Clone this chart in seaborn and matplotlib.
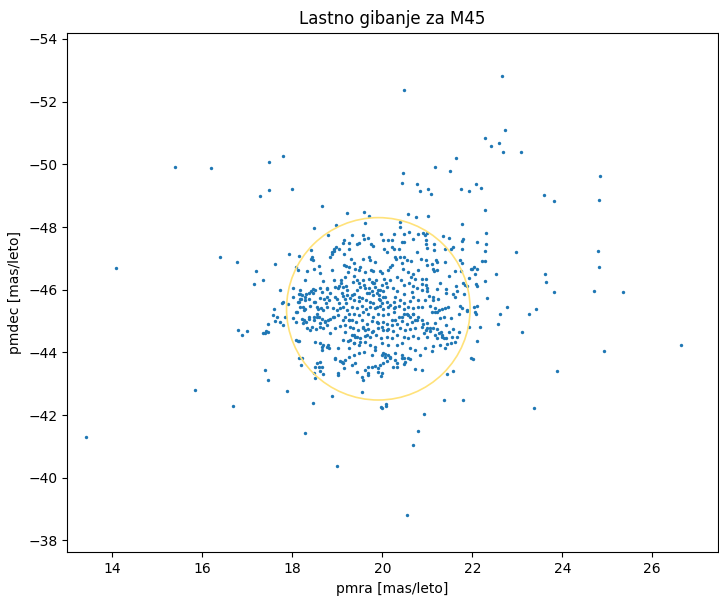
import numpy as np
import pandas as pd
import matplotlib
matplotlib.use("Agg")
import matplotlib.pyplot as plt
from matplotlib.patches import Ellipse
import seaborn as sns

# stars far from the cluster centre
halo_pmra = [
    15.38, 16.20, 17.48, 17.78, 17.27, 17.49, 17.99, 14.09, 16.39, 16.76, 17.19,
    17.62, 17.93, 18.14, 18.09, 18.13, 17.35, 17.14, 17.72, 18.02, 18.02, 18.14,
    22.67, 22.73, 22.29, 22.42, 22.60, 22.68, 23.08, 21.64, 21.51, 22.07, 22.19,
    21.74, 21.93, 24.84, 23.59, 23.82, 24.82, 22.29, 21.76, 22.31, 21.35, 21.48,
    21.80, 21.76, 22.11, 22.31, 21.58, 21.53, 21.39, 21.76, 22.29, 22.97, 24.79,
    24.82, 22.22, 22.28, 21.72, 21.78, 21.39, 21.62, 21.74, 21.96, 21.99, 22.04,
    22.10, 22.05, 21.93, 22.52, 22.28, 21.48, 21.79, 22.08, 22.11, 21.83, 21.89,
    21.64, 21.42, 21.66, 21.42, 21.58, 21.82, 21.62, 23.61, 23.64, 23.82, 24.71,
    25.35, 22.33,
    22.77, 22.62, 23.26, 23.42, 22.56, 23.10, 22.10, 22.04, 22.09, 21.89, 22.16,
    21.93, 22.11, 21.98, 22.02, 21.58, 21.43, 21.36, 21.80, 23.38, 23.88, 24.92,
    26.64,
    13.42, 15.83, 16.69, 17.39, 17.45, 17.87, 16.80, 16.88, 16.98, 17.35, 17.39,
    17.42, 17.46, 17.45, 17.76, 17.80, 17.90, 17.58, 17.56, 17.66, 17.62, 17.72,
    17.80, 17.84, 18.02, 18.09, 18.08, 18.14, 18.16, 18.09, 18.14, 18.14,
    20.47, 21.16, 20.45, 20.43, 20.76, 20.84, 21.02, 21.08, 19.98, 20.08, 20.92,
    20.80, 20.69, 18.27, 18.99, 20.55,
]
halo_pmdec = [
    -49.90, -49.87, -50.08, -50.26, -48.99, -49.17, -49.20, -46.69, -47.04, -46.87, -46.60,
    -46.81, -47.13, -47.07, -46.71, -46.63, -46.31, -46.19, -45.98, -46.04, -45.78, -45.85,
    -52.82, -51.09, -50.85, -50.58, -50.67, -50.38, -50.38, -50.20, -49.79, -49.37, -49.25,
    -49.20, -49.14, -49.62, -49.02, -48.82, -48.87, -48.54, -48.11, -47.82, -47.70, -47.64,
    -47.61, -47.55, -47.51, -47.46, -47.37, -47.31, -47.31, -47.29, -47.22, -47.19, -47.22,
    -46.72, -46.90, -46.90, -46.94, -46.84, -46.87, -46.60, -46.60, -46.66, -46.67, -46.71,
    -46.66, -46.49, -46.37, -46.49, -46.29, -46.43, -46.22, -46.18, -46.13, -46.14, -46.12,
    -46.11, -46.02, -45.96, -45.89, -45.87, -45.86, -45.78, -46.49, -46.24, -45.92, -45.96,
    -45.92, -45.72,
    -45.46, -45.24, -45.24, -45.37, -44.92, -44.66, -45.48, -45.46, -45.24, -45.31, -44.80,
    -44.80, -44.36, -43.81, -43.78, -43.39, -43.30, -42.48, -42.48, -42.21, -43.39, -44.04,
    -44.24,
    -41.30, -42.80, -42.30, -43.45, -43.13, -42.78, -44.72, -44.54, -44.69, -44.63, -44.61,
    -44.68, -44.65, -44.89, -45.57, -45.60, -45.54, -45.39, -45.19, -45.13, -45.01, -44.98,
    -44.86, -45.13, -45.09, -45.28, -44.96, -45.60, -45.69, -44.39, -44.35, -43.83,
    -52.36, -49.92, -49.71, -49.39, -49.36, -49.16, -49.21, -49.06, -42.27, -42.35, -42.03,
    -41.50, -41.06, -41.44, -40.37, -38.81,
]

# upper half of the cluster
upper_pmra = [
    18.65, 18.48, 18.96, 19.22, 18.79, 19.14, 19.13, 18.92, 18.88, 18.93, 18.88,
    18.84, 18.96, 19.04, 19.14, 19.25, 19.26, 18.41, 18.43, 18.42, 18.45, 18.32,
    18.48, 18.60, 18.61, 18.87, 19.14, 19.19, 19.25, 19.24, 18.27, 18.67, 18.92,
    18.94, 19.09, 19.08, 19.04, 19.18, 19.20, 19.12, 18.78, 18.76, 18.61, 18.65,
    18.45, 18.50, 18.42, 18.46, 18.17, 18.17, 18.30, 18.20, 18.29, 18.38, 18.47,
    18.70, 18.74, 18.82, 18.94, 19.00, 19.12, 19.16, 19.21, 19.27, 19.04, 19.19,
    19.59, 19.70, 19.61, 20.57, 20.74, 20.39, 20.40, 19.32, 19.56, 19.68, 19.60,
    19.98, 20.25, 20.48, 20.59, 20.79, 20.69, 19.43, 19.48, 19.74, 19.79, 20.02,
    20.12, 20.22, 20.03, 20.10, 20.22, 20.25, 20.43, 20.47, 20.36, 20.76, 19.30,
    19.38, 19.58, 19.70, 19.73, 19.83, 20.27, 20.30, 20.39, 20.47, 20.54, 20.64,
    20.17, 20.22, 20.12, 20.43, 20.45, 19.51, 19.39, 19.49, 19.62, 19.74, 19.80,
    19.95, 20.00, 20.58, 20.69, 20.80, 19.38, 19.43, 19.35, 19.49, 19.58, 19.59,
    19.70, 19.77, 19.82, 19.86, 20.03, 20.07, 20.16, 20.33, 20.41, 20.47, 20.64,
    20.73, 20.60, 20.69, 19.43, 19.51, 19.37, 19.70, 19.76, 19.71, 19.80, 19.88,
    19.95, 19.92, 20.02, 20.10, 20.06, 20.23, 20.32, 20.28, 20.47, 20.65, 20.76,
    20.69, 19.36, 19.49, 19.64, 19.73, 19.92, 19.99, 20.25, 20.40, 20.47, 20.62,
    20.80,
    21.02, 20.91, 20.95, 20.99, 20.97, 20.96, 21.00, 21.15, 21.15, 20.85, 20.96,
    21.00, 21.10, 21.19, 21.21, 21.13, 21.14, 21.22, 20.88, 20.96, 20.88, 20.96,
    21.00, 20.89, 20.99, 21.03, 20.95, 21.13, 21.12, 21.23, 21.27, 21.22,
]
upper_pmdec = [
    -48.67, -47.97, -48.05, -48.46, -47.75, -47.59, -47.50, -47.31, -47.20, -47.23, -47.14,
    -47.05, -47.36, -47.29, -47.15, -47.48, -47.30, -47.28, -47.03, -46.97, -46.95, -46.60,
    -46.66, -46.75, -46.54, -46.63, -46.79, -46.75, -46.72, -46.56, -46.31, -46.28, -46.32,
    -46.09, -46.31, -46.21, -46.12, -46.41, -46.12, -46.08, -46.07, -46.01, -46.05, -45.93,
    -46.03, -45.99, -45.95, -45.89, -45.98, -45.87, -45.85, -45.70, -45.67, -45.70, -45.62,
    -45.69, -45.58, -45.67, -45.77, -45.70, -45.79, -45.70, -45.83, -45.72, -45.56, -45.56,
    -48.49, -48.36, -48.14, -48.40, -48.33, -48.15, -48.01, -47.75, -47.75, -47.65, -47.63,
    -47.78, -47.79, -47.77, -47.83, -47.79, -47.61, -47.46, -47.48, -47.47, -47.40, -47.57,
    -47.57, -47.57, -47.31, -47.21, -47.37, -47.31, -47.53, -47.51, -47.31, -47.21, -46.97,
    -46.86, -46.97, -47.03, -46.95, -46.89, -47.05, -46.99, -47.03, -47.03, -46.94, -46.91,
    -46.71, -46.78, -46.63, -46.84, -46.65, -46.73, -46.66, -46.63, -46.57, -46.63, -46.60,
    -46.59, -46.52, -46.57, -46.50, -46.62, -46.44, -46.31, -46.24, -46.20, -46.31, -46.14,
    -46.34, -46.25, -46.20, -46.31, -46.33, -46.22, -46.31, -46.41, -46.31, -46.16, -46.41,
    -46.33, -46.20, -46.12, -45.99, -46.08, -45.86, -46.04, -45.97, -45.88, -45.84, -45.90,
    -45.99, -45.82, -45.97, -46.08, -45.78, -46.05, -45.97, -45.78, -45.86, -45.93, -46.04,
    -45.78, -45.67, -45.65, -45.67, -45.62, -45.69, -45.58, -45.62, -45.67, -45.56, -45.65,
    -45.67,
    -48.35, -47.80, -47.75, -47.82, -47.58, -47.46, -47.32, -47.47, -47.27, -46.97, -46.95,
    -46.78, -46.82, -46.95, -46.89, -46.65, -46.60, -46.63, -46.34, -46.33, -46.17, -46.14,
    -46.07, -45.99, -45.96, -45.80, -45.67, -45.78, -45.67, -45.70, -46.20, -46.01,
]

# lower half of the cluster
lower_pmra = [
    18.23, 18.28, 18.39, 18.54, 18.58, 18.63, 18.69, 18.76, 18.91, 18.99, 19.06,
    19.13, 19.21, 19.25, 18.10, 18.21, 18.26, 18.30, 18.23, 18.36, 18.47, 18.54,
    18.60, 18.65, 18.73, 18.84, 18.93, 19.02, 19.13, 19.25, 18.33, 18.39, 18.43,
    18.53, 18.62, 18.68, 18.76, 18.84, 18.95, 19.06, 19.17, 18.13, 18.50, 18.62,
    18.65, 18.76, 18.82, 19.02, 19.13, 19.23, 19.26, 18.54, 18.60, 18.65, 18.68,
    18.62, 18.95, 19.05, 19.13, 19.15, 19.02, 19.25, 18.22, 18.20, 18.47, 18.50,
    18.45, 18.87,
    19.32, 19.43, 19.54, 19.64, 19.73, 19.84, 19.95, 20.02, 20.13, 20.25, 20.36,
    20.47, 20.58, 20.69, 20.80, 19.36, 19.47, 19.58, 19.69, 19.80, 19.91, 20.02,
    20.13, 20.25, 20.36, 20.47, 20.58, 20.69, 20.80, 19.32, 19.42, 19.54, 19.65,
    19.76, 19.87, 20.02, 20.10, 20.21, 20.32, 20.43, 20.54, 20.65, 20.76, 19.34,
    19.45, 19.56, 19.69, 19.79, 19.91, 20.01, 20.13, 20.23, 20.39, 20.50, 20.62,
    20.73, 19.32, 19.39, 19.50, 19.62, 19.73, 19.86, 19.96, 20.10, 20.21, 20.32,
    20.47, 20.58, 20.69, 20.80, 19.36, 19.47, 19.62, 19.73, 19.84, 19.99, 20.13,
    20.32, 20.43, 20.62, 20.73, 19.36, 19.47, 19.59, 19.76, 19.84, 19.99, 20.06,
    20.16, 20.28, 20.43, 20.48, 20.62, 19.43, 19.62, 19.69, 19.84, 19.95, 20.02,
    20.11, 20.23, 20.32, 20.47, 20.73, 19.69, 19.91, 19.96, 19.56, 19.54, 19.99,
    20.08,
    20.88, 21.06, 21.17, 21.25, 21.32, 21.39, 21.45, 21.73, 21.76, 21.87, 22.06,
    21.10, 21.17, 21.21, 21.27, 21.36, 21.52, 21.71, 20.88, 20.91, 20.97, 21.00,
    20.93, 21.05, 21.13, 21.21, 21.30, 21.42, 21.47, 21.58, 21.00, 21.17, 21.22,
    21.32, 21.37, 21.42, 21.54, 21.65, 21.71, 21.12, 21.28, 21.39, 21.43, 21.52,
    21.62, 20.95, 21.10, 20.84, 20.88,
]
lower_pmdec = [
    -45.46, -45.38, -45.48, -45.46, -45.38, -45.42, -45.35, -45.46, -45.42, -45.35, -45.40,
    -45.46, -45.35, -45.24, -45.28, -45.06, -45.03, -44.98, -44.93, -45.08, -45.14, -45.14,
    -45.14, -45.08, -45.00, -45.06, -45.14, -45.19, -45.03, -45.03, -44.77, -44.71, -44.82,
    -44.74, -44.82, -44.77, -44.87, -44.61, -44.77, -44.85, -44.87, -44.36, -44.32, -44.29,
    -44.18, -44.18, -44.13, -44.15, -44.39, -44.36, -44.13, -43.65, -43.54, -43.54, -43.30,
    -43.40, -43.79, -43.72, -43.65, -43.49, -43.27, -43.86, -43.81, -43.60, -43.35, -43.19,
    -42.40, -42.61,
    -45.46, -45.42, -45.48, -45.38, -45.46, -45.42, -45.49, -45.38, -45.46, -45.40, -45.48,
    -45.38, -45.46, -45.40, -45.46, -45.24, -45.19, -45.28, -45.21, -45.14, -45.24, -45.19,
    -45.21, -45.28, -45.14, -45.21, -45.19, -45.24, -45.14, -45.03, -44.98, -45.03, -44.92,
    -45.00, -44.96, -44.98, -44.92, -45.03, -44.92, -45.00, -44.92, -44.98, -45.03, -44.77,
    -44.71, -44.79, -44.74, -44.68, -44.77, -44.71, -44.74, -44.68, -44.77, -44.71, -44.74,
    -44.79, -44.55, -44.50, -44.45, -44.53, -44.50, -44.55, -44.47, -44.50, -44.45, -44.55,
    -44.50, -44.45, -44.53, -44.47, -44.29, -44.23, -44.32, -44.25, -44.18, -44.29, -44.23,
    -44.25, -44.29, -44.13, -44.07, -43.91, -43.97, -44.02, -43.91, -44.07, -43.91, -43.94,
    -43.86, -43.97, -43.91, -43.81, -43.79, -43.38, -43.44, -43.54, -43.57, -43.60, -43.65,
    -43.72, -43.54, -43.54, -43.62, -43.47, -43.28, -43.38, -43.25, -43.12, -42.72, -42.21,
    -42.30,
    -45.46, -45.48, -45.42, -45.35, -45.38, -45.42, -45.46, -45.48, -45.40, -45.35, -45.30,
    -45.30, -45.28, -45.30, -45.11, -45.14, -45.11, -45.21, -45.03, -44.92, -44.71, -44.77,
    -44.61, -44.68, -44.79, -44.74, -44.66, -44.87, -44.66, -44.74, -44.50, -44.55, -44.47,
    -44.50, -44.45, -44.47, -44.50, -44.50, -44.66, -44.21, -44.23, -44.15, -44.26, -44.29,
    -44.32, -44.13, -44.04, -43.91, -43.44,
]

# extra stars read from the crowded middle of the cluster
middle_pmra = [
    19.17, 19.25, 19.28, 19.17, 19.36, 19.43, 19.50, 19.38, 19.28, 19.58, 19.62,
    19.65, 19.76, 19.91, 19.99, 20.10, 20.21, 20.28, 20.43, 20.54, 20.62, 20.69,
    20.73, 20.88, 20.99, 21.06, 21.17, 21.25, 21.32, 20.02, 20.06, 20.13, 20.17,
    20.28, 20.32, 20.43, 20.50, 20.58, 19.76, 19.91, 19.99, 19.69, 19.54, 19.39,
    19.32, 19.17, 19.10, 19.02, 18.95, 18.80, 18.69, 18.65, 18.62, 18.50, 19.80,
    19.88, 19.95, 20.02, 20.10, 20.17, 20.28, 19.84, 19.91, 20.00, 19.80, 19.62,
    19.65, 19.54, 19.47, 19.32, 19.21, 19.10, 19.02, 18.84, 18.76, 18.62, 18.50,
    18.36, 18.28, 18.21, 18.13, 18.17, 18.25, 18.36, 18.47, 18.54, 18.62, 18.73,
    18.80, 18.91,
]
middle_pmdec = [
    -45.14, -45.03, -44.82, -44.66, -44.55, -44.50, -44.34, -44.29, -44.39, -44.82, -44.71,
    -44.55, -44.66, -44.93, -44.82, -44.71, -44.87, -45.03, -45.14, -45.24, -45.14, -45.24,
    -45.03, -44.82, -44.93, -44.77, -44.93, -44.61, -44.55, -43.97, -43.86, -43.91, -43.81,
    -43.75, -43.65, -43.81, -43.70, -43.81, -43.54, -43.49, -43.33, -43.33, -43.22, -43.65,
    -43.60, -43.75, -43.70, -43.33, -43.81, -44.23, -44.23, -44.07, -43.70, -43.54, -45.56,
    -45.46, -45.67, -45.78, -45.62, -45.51, -45.46, -46.10, -45.99, -46.15, -46.20, -46.04,
    -45.88, -45.72, -45.78, -45.83, -45.99, -45.88, -46.04, -45.88, -45.78, -45.72, -45.62,
    -45.88, -45.78, -45.83, -45.62, -45.46, -45.35, -45.14, -45.03, -45.24, -44.93, -44.98,
    -45.03, -45.14,
]

# fitted cluster region
circle_center = (19.91, -45.39)
circle_width = 4.08
circle_height = 5.82

df = pd.DataFrame({
    "pmra": halo_pmra + upper_pmra + lower_pmra + middle_pmra,
    "pmdec": halo_pmdec + upper_pmdec + lower_pmdec + middle_pmdec,
})

fig = plt.figure(figsize=(7.19, 5.96), dpi=100)
ax = fig.add_axes([0.0932, 0.0733, 0.9054, 0.8718])

sns.scatterplot(data=df, x="pmra", y="pmdec", ax=ax, s=6, color="#1f77b4", linewidth=0)
ax.add_patch(Ellipse(circle_center, circle_width, circle_height, fill=False,
                     edgecolor="#ffe27a", linewidth=1.2))

ax.set_xlim(12.99, 27.46)
ax.set_ylim(-37.62, -54.2)
ax.set_yticks(np.arange(-54, -37, 2))
ax.set_xlabel("pmra [mas/leto]")
ax.set_ylabel("pmdec [mas/leto]")
ax.set_title("Lastno gibanje za M45")

fig.savefig("out.png", dpi=100)
